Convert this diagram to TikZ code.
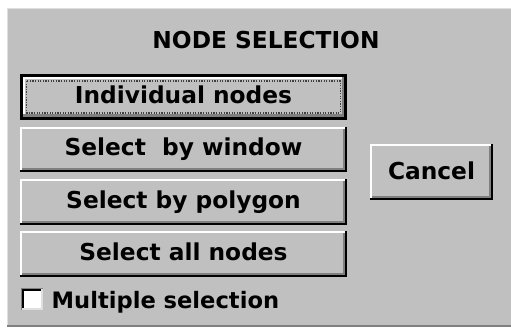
\documentclass[tikz,border=0pt]{standalone}
\usepackage{fontspec}
\setmainfont{DejaVu Sans}
\newfontfamily\uifamily{DejaVu Sans}
\newcommand{\uifont}{\uifamily\bfseries\fontsize{23.3}{28}\selectfont}
\newcommand{\chkfont}{\uifamily\bfseries\fontsize{22.6}{28}\selectfont}
\definecolor{winface}{HTML}{C0C0C0}
\definecolor{winshadow}{HTML}{808080}
\definecolor{winlight}{HTML}{DFDFDF}
\tikzset{
  % plain raised push button
  pushbtn/.style={rectangle, fill=winface, inner sep=0pt, font=\uifont, text=black,
    minimum width=327pt, minimum height=45.5pt, text height=16.5pt, text depth=4pt,
    path picture={
      \draw[white, line width=2pt]
        ([xshift=1pt]path picture bounding box.south west) --
        ([xshift=1pt,yshift=-1pt]path picture bounding box.north west) --
        ([yshift=-1pt]path picture bounding box.north east);
      \draw[winshadow, line width=2pt]
        ([xshift=-3pt,yshift=-2pt]path picture bounding box.north east) --
        ([xshift=-3pt,yshift=3pt]path picture bounding box.south east) --
        ([xshift=2pt,yshift=3pt]path picture bounding box.south west);
      \draw[black, line width=2pt]
        ([xshift=-1pt]path picture bounding box.north east) --
        ([xshift=-1pt,yshift=1pt]path picture bounding box.south east) --
        ([yshift=1pt]path picture bounding box.south west);
    }},
  % default push button with black frame
  defbtn/.style={pushbtn,
    path picture={
      \draw[white, line width=2pt]
        ([xshift=4pt,yshift=3pt]path picture bounding box.south west) --
        ([xshift=4pt,yshift=-4pt]path picture bounding box.north west) --
        ([xshift=-3pt,yshift=-4pt]path picture bounding box.north east);
      \draw[winshadow, line width=2.5pt]
        ([xshift=-4.2pt,yshift=-3pt]path picture bounding box.north east) --
        ([xshift=-4.2pt,yshift=4.2pt]path picture bounding box.south east) --
        ([xshift=3pt,yshift=4.2pt]path picture bounding box.south west);
      \draw[black, line width=3pt]
        ([xshift=1.5pt,yshift=1.5pt]path picture bounding box.south west) rectangle
        ([xshift=-1.5pt,yshift=-1.5pt]path picture bounding box.north east);
    }},
  cancelbtn/.style={pushbtn, minimum width=123pt, minimum height=56pt,
    text height=18pt, text depth=4pt},
  focusrect/.style={draw=black!75, line width=1.3pt, dash pattern=on 1.3pt off 1.3pt},
  checkbox/.style={rectangle, fill=white, inner sep=0pt, minimum size=22pt,
    path picture={
      \draw[winlight, line width=2pt]
        ([xshift=-1pt]path picture bounding box.north east) --
        ([xshift=-1pt,yshift=1pt]path picture bounding box.south east) --
        ([yshift=1pt]path picture bounding box.south west);
      \draw[winshadow, line width=1pt]
        ([xshift=0.5pt]path picture bounding box.south west) --
        ([xshift=0.5pt,yshift=-0.5pt]path picture bounding box.north west) --
        ([yshift=-0.5pt]path picture bounding box.north east);
      \draw[black, line width=2pt]
        ([xshift=2pt,yshift=2pt]path picture bounding box.south west) --
        ([xshift=2pt,yshift=-2pt]path picture bounding box.north west) --
        ([xshift=-2pt,yshift=-2pt]path picture bounding box.north east);
    }},
  label/.style={font=\uifont, text=black, inner sep=0pt}
}
\begin{document}
\begin{tikzpicture}[x=1pt,y=-1pt]
  \useasboundingbox (0,0) rectangle (511,327);
  \fill[white] (0,0) rectangle (511,327);
  % dialog face
  \fill[winface] (7,8) rectangle (511,327);
  \draw[winlight, line width=1pt] (7.5,327) -- (7.5,8.5) -- (511,8.5);
  \draw[winshadow, line width=1.5pt] (7,325.8) -- (511,325.8);

  \node[label, anchor=base] (title) at (266,48.3) {NODE SELECTION};

  \node[defbtn]  (b1) at (183.5,97)    {Individual nodes};
  \draw[focusrect] ([shift={(7,7)}]b1.north west) rectangle ([shift={(-7,-7)}]b1.south east);
  \node[pushbtn] (b2) at (183.5,149.5) {Select\ \ by window};
  \node[pushbtn] (b3) at (183.5,202)   {Select by polygon};
  \node[pushbtn] (b4) at (183.5,254)   {Select all nodes};

  \node[cancelbtn] (cancel) at (431.5,172) {Cancel};

  \node[checkbox] (chk) at (32,299) {};
  \node[label, font=\chkfont, anchor=base west] (chklabel) at (51.5,308) {Multiple selection};
\end{tikzpicture}
\end{document}
